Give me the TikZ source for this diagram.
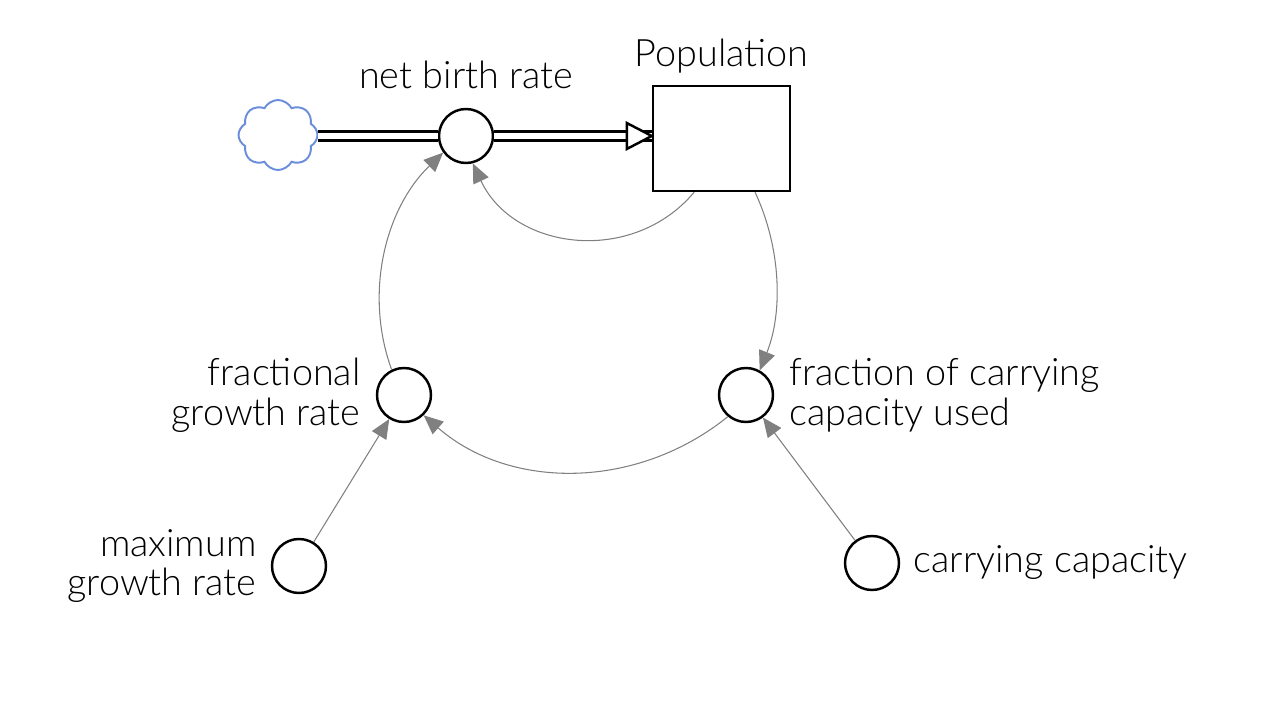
\documentclass[tikz,border=0pt]{standalone}
\usepackage{fontspec}
\setmainfont{Lato}[UprightFont={* Light}]
\usetikzlibrary{arrows.meta,
                positioning,
                shapes.symbols}

\begin{document}
\begin{tikzpicture}%
    [every node/.style = {font=\fontsize{21.5}{22.7}\selectfont, inner sep=0pt},
     aux/.style = {circle, draw, line width=1.4pt, minimum size=1.08cm},
     stock/.style = {rectangle, draw, line width=1.4pt, minimum width=2.74cm, minimum height=2.1cm},
     link/.style = {-{Triangle[length=11pt, width=9.5pt]}, gray, line width=0.6pt},
     pipe/.style = {double, double distance=3.8pt, line width=1.6pt},
     source/.style = {cloud, cloud puffs=8, cloud puff arc=125, aspect=1.1, draw=sourceblue, line width=1.1pt, minimum width=1.58cm, minimum height=1.4cm}]
    \definecolor{sourceblue}{RGB}{106,142,219}
    \useasboundingbox (0,0) rectangle (25.6,14.4);

    \node [source] (src) at (5.56,11.7) {};
    \node [aux] (nbr) at (9.32,11.68) {};
    \node [stock] (pop) at (14.43,11.63) {};
    \node [aux] (fgr) at (8.08,6.5) {};
    \node [aux] (fcc) at (14.92,6.5) {};
    \node [aux] (mgr) at (5.98,3.08) {};
    \node [aux] (cc) at (17.44,3.14) {};

    \node [above=0.38cm of nbr] (nbrlabel) {net birth rate};
    \node [above=0.22cm of pop] (poplabel) {Population};
    \node [left=0.3cm of fgr, align=right] (fgrlabel) {fractional\\growth rate};
    \node [right=0.3cm of fcc, align=left] (fcclabel) {fraction of carrying\\capacity used};
    \node [left=0.28cm of mgr, align=right] (mgrlabel) {maximum\\growth rate};
    \node [right=0.26cm of cc] (cclabel) {carrying capacity};

    \coordinate (inflow) at (nbr.east -| pop.west);
    \draw [pipe] (src.east |- nbr) -- (nbr.west);
    \draw [pipe] (nbr.east) -- (inflow);
    \draw [line width=1.4pt, fill=white, line join=miter] (inflow) -- ++(-0.5,0.26) -- ++(0,-0.52) -- cycle;

    \draw [link] (pop.-117) to [out=-130, in=-65, looseness=1.1] (nbr.-76);
    \draw [link] (fgr.116) to [out=110, in=-136, looseness=0.93] (nbr.-144);
    \draw [link] (pop.-58) to [out=-65, in=68, looseness=0.89] (fcc.61);
    \draw [link] (fcc.-130) to [out=-141, in=-41, looseness=0.97] (fgr.-46);
    \draw [link] (mgr) -- (fgr);
    \draw [link] (cc) -- (fcc);
\end{tikzpicture}
\end{document}
